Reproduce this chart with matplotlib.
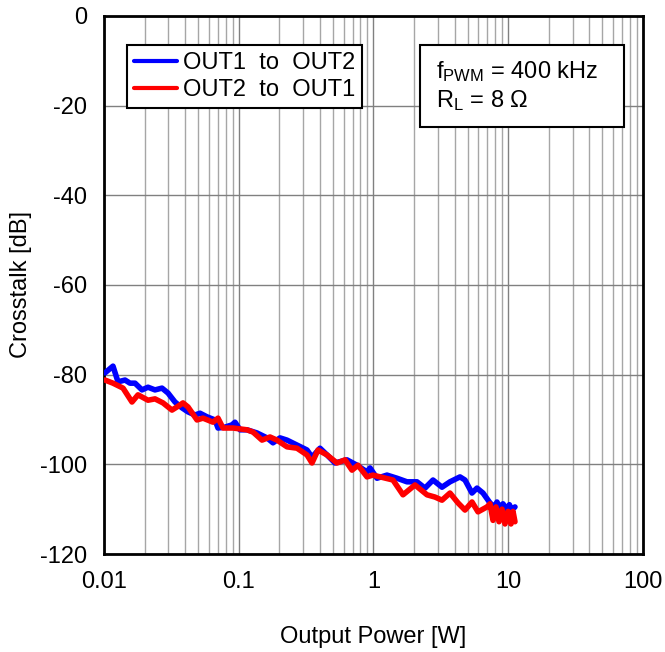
import matplotlib
matplotlib.use("Agg")
import matplotlib.pyplot as plt
from matplotlib.patches import Rectangle
from matplotlib.ticker import LogLocator, NullFormatter, FixedLocator

plt.rcParams.update({
    "font.family": ["Liberation Sans", "DejaVu Sans"],
    "font.size": 17,
    "axes.unicode_minus": False,
    "mathtext.fontset": "custom",
    "mathtext.rm": "Liberation Sans",
    "mathtext.it": "Liberation Sans",
})

# OUT1 -> OUT2 (blue)
p_out1 = [0.01017, 0.01166, 0.01270, 0.01432, 0.01559, 0.01699, 0.01914, 0.02121,
          0.02390, 0.02694, 0.02985, 0.03363, 0.03791, 0.04201, 0.04734, 0.05158,
          0.05812, 0.06664, 0.07015, 0.07906, 0.08910, 0.09379, 0.1022, 0.1151,
          0.1366, 0.1621, 0.1795, 0.2024, 0.2281, 0.2705, 0.3210, 0.3496, 0.4009,
          0.4517, 0.5180, 0.6357, 0.7544, 0.8951, 0.9419, 1.062, 1.259, 1.494,
          1.773, 2.103, 2.411, 2.764, 3.224, 3.695, 4.385, 4.776, 5.383, 5.863,
          6.496, 7.32, 7.90, 8.25, 8.69, 9.14, 9.70, 10.2, 10.6, 11.22]
xt_out1 = [-79.6, -78.1, -81.6, -81.2, -81.9, -81.9, -83.4, -82.8,
           -83.4, -83.0, -84.1, -86.1, -87.4, -88.3, -89.0, -88.6,
           -89.4, -90.1, -91.9, -91.7, -91.2, -90.6, -92.3, -92.3,
           -93.0, -94.1, -95.2, -94.1, -94.6, -95.7, -96.8, -98.4, -96.4,
           -97.9, -99.7, -99.0, -100.2, -101.7, -100.8, -103.1, -102.4, -103.1,
           -103.9, -103.9, -105.3, -103.5, -105.1, -103.9, -102.8, -103.5, -106.4, -105.3,
           -106.4, -108.6, -109.5, -108.4, -109.8, -108.8, -110.0, -109.0, -110.2, -109.5]

# OUT2 -> OUT1 (red)
p_out2 = [0.01017, 0.01166, 0.01384, 0.01613, 0.01788, 0.02121, 0.02390, 0.02741,
          0.03195, 0.03481, 0.03858, 0.04201, 0.04899, 0.05429, 0.06440, 0.07015,
          0.07640, 0.09066, 0.1151, 0.1276, 0.1488, 0.1706, 0.1922, 0.2281,
          0.2705, 0.3210, 0.3496, 0.3873, 0.4517, 0.5359, 0.6145, 0.6925, 0.7674,
          0.8951, 0.9882, 1.395, 1.655, 2.032, 2.495, 2.861, 3.224, 3.695, 4.238,
          4.776, 5.383, 5.964, 6.956, 7.32, 7.71, 8.11, 8.54, 8.99, 9.46, 9.96,
          10.48, 10.85, 11.22]
xt_out2 = [-81.2, -81.9, -83.0, -86.1, -84.5, -85.7, -85.4, -86.3,
           -87.9, -87.2, -86.3, -87.2, -90.1, -89.7, -90.6, -89.7,
           -91.9, -91.9, -92.3, -92.8, -94.6, -93.9, -94.6, -96.1,
           -96.4, -97.9, -99.7, -96.8, -97.9, -99.7, -99.0, -101.3, -100.2,
           -102.8, -102.4, -103.5, -106.8, -104.6, -106.8, -107.3, -108.0, -106.4, -108.6,
           -110.2, -108.4, -110.6, -109.5, -108.8, -112.5, -109.5, -112.8, -110.0, -113.3, -110.5,
           -113.3, -110.5, -112.8]

x_ticks = [0.01, 0.1, 1, 10, 100]
x_ticklabels = ["0.01", "0.1", "1", "10", "100"]
y_ticks = [0, -20, -40, -60, -80, -100, -120]

fig = plt.figure(figsize=(6.65, 6.52), dpi=100)
ax = fig.add_axes([0.1564, 0.1503, 0.8105, 0.8252])

ax.plot(p_out1, xt_out1, color="#0000ff", lw=4, label="OUT1  to  OUT2",
        solid_joinstyle="round", solid_capstyle="round", zorder=3)
ax.plot(p_out2, xt_out2, color="#ff0000", lw=4, label="OUT2  to  OUT1",
        solid_joinstyle="round", solid_capstyle="round", zorder=4)

ax.set_xscale("log")
ax.set_xlim(0.01, 100)
ax.set_ylim(-120, 0)
ax.set_xticks(x_ticks)
ax.set_xticklabels(x_ticklabels)
ax.xaxis.set_minor_locator(LogLocator(base=10, subs=range(2, 10)))
ax.xaxis.set_minor_formatter(NullFormatter())
ax.yaxis.set_major_locator(FixedLocator(y_ticks))
ax.tick_params(which="both", length=0, pad=12)

ax.grid(True, which="major", color="#808080", lw=1)
ax.grid(True, which="minor", axis="x", color="#a6a6a6", lw=1)
for s in ax.spines.values():
    s.set_linewidth(2)
    s.set_color("black")

ax.set_xlabel("Output Power [W]", labelpad=24)
ax.set_ylabel("Crosstalk [dB]", labelpad=6)

leg = ax.legend(loc="upper left", bbox_to_anchor=(0.0427, 0.946), fancybox=False,
                framealpha=1, edgecolor="black", handlelength=1.8, handletextpad=0.25,
                borderpad=0.3, labelspacing=0.2, borderaxespad=0)
leg.get_frame().set_linewidth(1.5)
for h in leg.get_lines():
    h.set_linewidth(3)

ax.add_patch(Rectangle((0.586, 0.7937), 0.3785, 0.1524, transform=ax.transAxes,
                       facecolor="white", edgecolor="black", lw=1.5, zorder=5))
ax.text(0.616, 0.896, "f$_{\\mathregular{PWM}}$ = 400 kHz", transform=ax.transAxes,
        va="center", ha="left", zorder=6)
ax.text(0.616, 0.842, "R$_{\\mathregular{L}}$ = 8 Ω", transform=ax.transAxes,
        va="center", ha="left", zorder=6)

fig.savefig("out.png", dpi=100)
